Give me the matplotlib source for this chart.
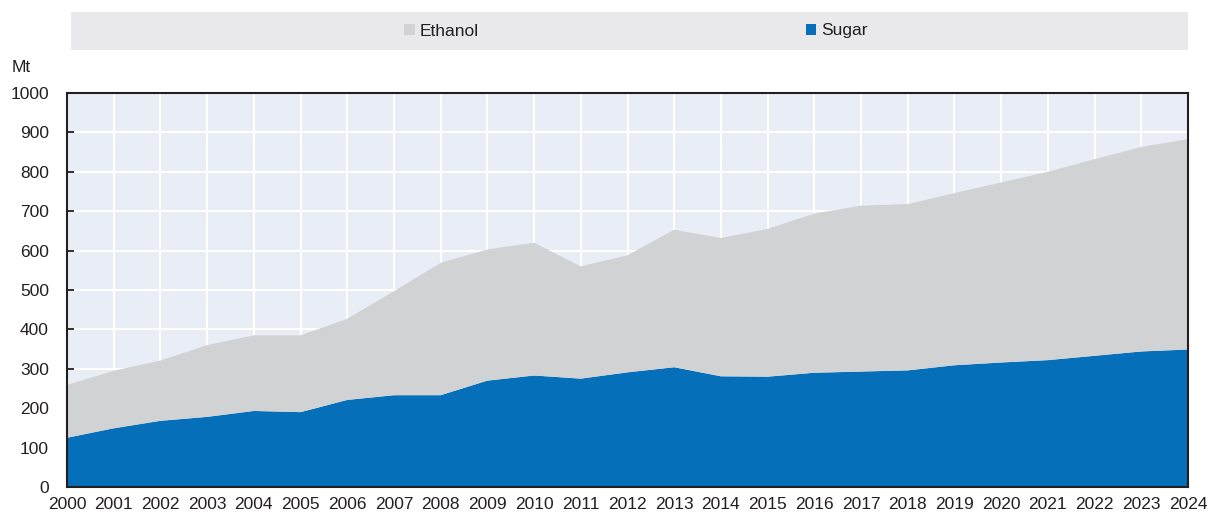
import matplotlib.pyplot as plt
import numpy as np
from matplotlib.patches import Patch, Rectangle

plt.rcParams['font.family'] = ['Liberation Sans Narrow', 'Liberation Sans', 'DejaVu Sans']

years = np.arange(2000, 2025)
sugar = [125, 149, 168, 178, 193, 190, 221, 233, 233, 270, 283, 275, 291,
         304, 281, 280, 290, 293, 296, 309, 316, 322, 333, 344, 349]
total = [259, 295, 321, 360, 385, 385, 427, 497, 569, 603, 620, 560, 588,
         653, 632, 655, 694, 714, 718, 746, 773, 800, 832, 863, 883]
ethanol = [t - s for t, s in zip(total, sugar)]

blue = '#0570b9'
grey = '#d1d2d4'

fig = plt.figure(figsize=(12.08, 5.12), dpi=100)
ax = fig.add_axes([67 / 1208, 25 / 512, 1121 / 1208, 394 / 512])
ax.set_facecolor('#e9edf5')

ax.stackplot(years, sugar, ethanol, colors=[blue, grey], linewidth=0)

ax.set_xlim(2000, 2024)
ax.set_ylim(0, 1000)
ax.set_xticks(years)
ax.set_yticks(np.arange(0, 1001, 100))
ax.grid(True, color='white', linewidth=1.5)
ax.set_axisbelow(True)
ax.tick_params(direction='in', length=5, width=1.3, color='#231f20',
               labelsize=12.5, labelcolor='#231f20')
ax.tick_params(axis='x', pad=7)
ax.tick_params(axis='y', pad=13)
for s in ax.spines.values():
    s.set_color('#231f20')
    s.set_linewidth(1.5)

fig.text(12 / 1208, 1 - 68 / 512, 'Mt', fontsize=12.5, color='#231f20', va='center')

fig.add_artist(Rectangle((71 / 1208, 1 - 50 / 512), 1117 / 1208, 38 / 512,
                         transform=fig.transFigure, facecolor='#e9e9eb',
                         edgecolor='none'))
handles = [Patch(facecolor=grey, label='Ethanol'), Patch(facecolor=blue, label='Sugar')]
fig.legend(handles=handles, loc='center', bbox_to_anchor=(636 / 1208, 1 - 31 / 512),
           ncol=2, frameon=False, fontsize=12.5, handlelength=0.6, handleheight=0.6,
           handletextpad=0.3, columnspacing=18.8, labelcolor='#231f20')

fig.savefig('out.png', dpi=100)
